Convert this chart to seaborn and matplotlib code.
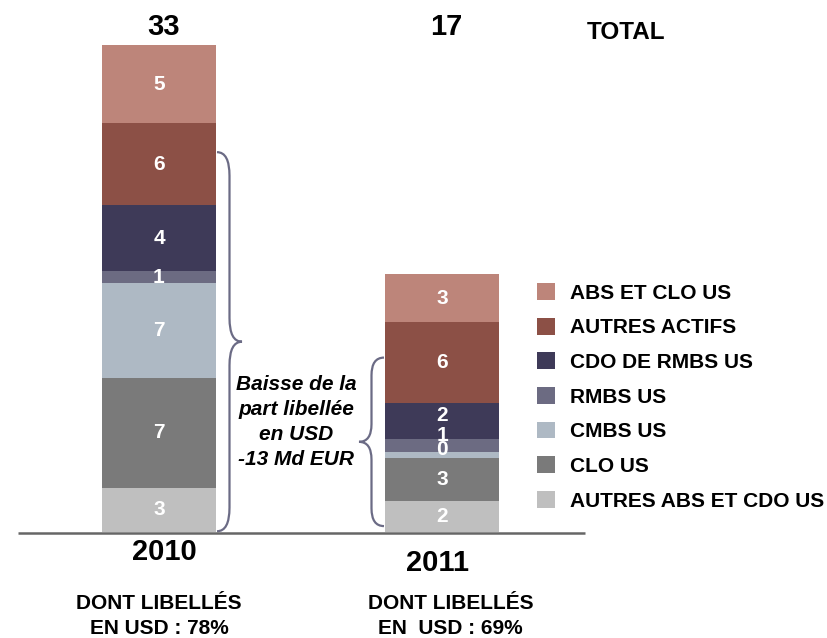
import pandas as pd
import seaborn as sns
import numpy as np
import matplotlib.pyplot as plt
from matplotlib.path import Path
from matplotlib.patches import PathPatch, Patch

# Data (bottom to top of each stacked bar)
years = ["2010", "2011"]
categories = ["AUTRES ABS ET CDO US", "CLO US", "CMBS US", "RMBS US",
              "CDO DE RMBS US", "AUTRES ACTIFS", "ABS ET CLO US"]
values_2010 = [3.0, 7.45, 6.4, 0.8, 4.45, 5.55, 5.3]
values_2011 = [2.1, 2.9, 0.4, 0.9, 2.4, 5.5, 3.25]
labels_2010 = [3, 7, 7, 1, 4, 6, 5]
labels_2011 = [2, 3, 0, 1, 2, 6, 3]
totals = [33, 17]
usd_share = ["EN USD : 78%", "EN  USD : 69%"]
colors = ["#bfbfbf", "#7a7a7a", "#aeb9c4", "#6c6b82",
          "#3e3a58", "#8c5046", "#bd857a"]

df = pd.DataFrame({
    "year": np.repeat(years, len(categories)),
    "category": categories * 2,
    "value": values_2010 + values_2011,
    "label": labels_2010 + labels_2011,
})
df["top"] = df.groupby("year")["value"].cumsum()
df["mid"] = df["top"] - df["value"] / 2

sns.set_style("white")
plt.rcParams["font.family"] = ["Liberation Sans", "DejaVu Sans"]
plt.rcParams["text.color"] = "black"

fig = plt.figure(figsize=(8.28, 6.38), dpi=100)
ax = fig.add_axes([0, 0, 1, 1])

# pixel scale helpers: bar centres at 159px / 442px, baseline at 532px
xs = 283.0
ys = 14.78
bw = 114 / xs

# stacked bars: draw cumulative heights from top down
for i in reversed(range(len(categories))):
    sub = df[df["category"] == categories[i]]
    sns.barplot(data=sub, x="year", y="top", order=years, color=colors[i],
                saturation=1, width=bw, linewidth=0, ax=ax)

ax.set_xlim(-159 / xs, (828 - 159) / xs)
ax.set_ylim(-(638 - 532) / ys, 532 / ys)
ax.axis("off")

# segment labels (small segments in 2011 nudged up a bit)
nudge = {("2011", "CDO DE RMBS US"): 0.4, ("2011", "RMBS US"): 0.65,
         ("2011", "CMBS US"): 0.4}
for _, r in df.iterrows():
    xi = years.index(r["year"])
    y = r["mid"] + nudge.get((r["year"], r["category"]), 0)
    ax.text(xi, y, str(r["label"]), ha="center", va="center",
            color="white", fontsize=15, fontweight="bold")

# totals
for xi, t in enumerate(totals):
    ax.text(xi + 0.015, 34.2, str(t), ha="center", va="center",
            fontsize=21, fontweight="bold")
ax.text((626 - 159) / xs, 33.8, "TOTAL", ha="center", va="center",
        fontsize=17.5, fontweight="bold")

# baseline
ax.plot([(18 - 159) / xs, (585 - 159) / xs], [-0.05, -0.05],
        color="#666666", lw=1.8, solid_capstyle="butt")

# year + share labels
ax.text(0.02, -1.35, "2010", ha="center", va="center", fontsize=21, fontweight="bold")
ax.text(0.985, -2.1, "2011", ha="center", va="center", fontsize=21, fontweight="bold")
for xi, s in zip([0, 1.03], usd_share):
    ax.text(xi, -4.85, "DONT LIBELLÉS", ha="center", va="center",
            fontsize=15, fontweight="bold")
    ax.text(xi, -6.55, s, ha="center", va="center", fontsize=15, fontweight="bold")


def brace(x0, y0, y1, dx, r):
    ym = (y0 + y1) / 2
    verts = [(x0, y1), (x0 + dx, y1), (x0 + dx, y1 - r),
             (x0 + dx, ym + r),
             (x0 + dx, ym), (x0 + 2 * dx, ym),
             (x0 + dx, ym), (x0 + dx, ym - r),
             (x0 + dx, y0 + r),
             (x0 + dx, y0), (x0, y0)]
    codes = [Path.MOVETO, Path.CURVE3, Path.CURVE3, Path.LINETO,
             Path.CURVE3, Path.CURVE3, Path.CURVE3, Path.CURVE3,
             Path.LINETO, Path.CURVE3, Path.CURVE3]
    ax.add_patch(PathPatch(Path(verts, codes), fill=False,
                           edgecolor="#6b6b85", lw=1.6))


brace(bw / 2 + 1 / xs, 0.05, 25.7, 12.5 / xs, 1.6)
brace(1 - bw / 2 - 1 / xs, 0.4, 11.8, -12.5 / xs, 1.2)

ax.text((296 - 159) / xs, 7.45, "Baisse de la\npart libellée\nen USD\n-13 Md EUR",
        ha="center", va="center", fontsize=15, fontweight="bold",
        fontstyle="italic", linespacing=1.4)

# legend (top item first)
handles = [Patch(facecolor=colors[i], edgecolor="none", label=categories[i])
           for i in reversed(range(len(categories)))]
ax.legend(handles=handles, loc="upper left", bbox_to_anchor=(537 / 828, 1 - 283 / 638),
          frameon=False, prop={"weight": "bold", "size": 15},
          handlelength=0.87, handleheight=0.87, handletextpad=0.72,
          labelspacing=0.72, borderpad=0, borderaxespad=0)

fig.savefig("out.png", dpi=100)
